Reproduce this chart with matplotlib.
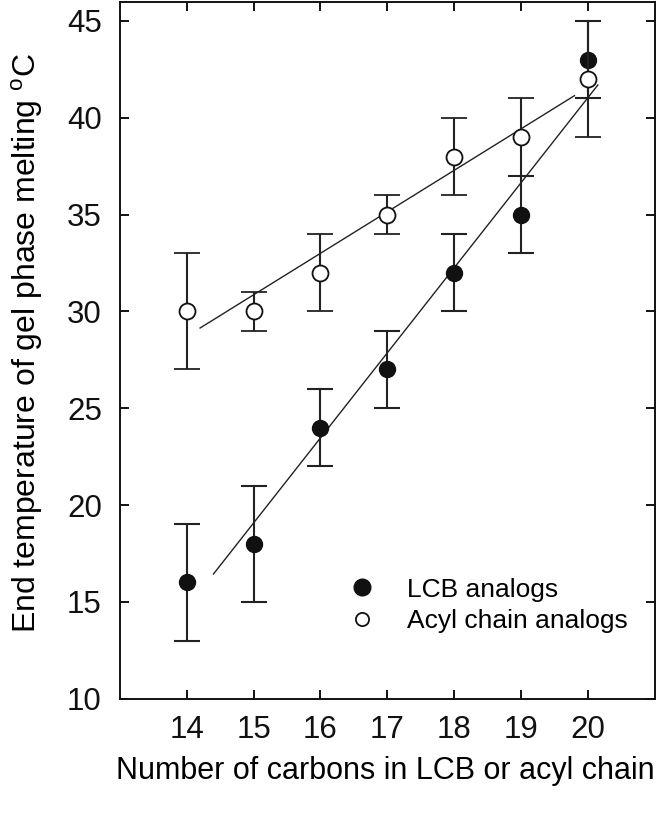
import numpy as np
import matplotlib
matplotlib.use("Agg")
import matplotlib.pyplot as plt
from matplotlib.lines import Line2D

plt.rcParams['font.family'] = ['Liberation Sans', 'DejaVu Sans']
plt.rcParams['mathtext.fontset'] = 'custom'
plt.rcParams['mathtext.rm'] = 'Liberation Sans'

# data
carbons = [14, 15, 16, 17, 18, 19, 20]
lcb_temp = [16, 18, 24, 27, 32, 35, 43]
lcb_err = [3, 3, 2, 2, 2, 2, 2]
acyl_temp = [30, 30, 32, 35, 38, 39, 42]
acyl_err = [3, 1, 2, 1, 2, 2, 3]

# x extent of the regression lines
lcb_fit_range = [14.4, 20.15]
acyl_fit_range = [14.2, 19.8]

fig = plt.figure(figsize=(6.66, 8.19), dpi=100)
ax = fig.add_axes([0.180, 0.147, 0.803, 0.851])

# regression lines
for temps, xr in [(lcb_temp, lcb_fit_range), (acyl_temp, acyl_fit_range)]:
    k, b = np.polyfit(carbons, temps, 1)
    xs = np.array(xr)
    ax.plot(xs, k * xs + b, color='#222222', lw=1.0, zorder=2)

ax.errorbar(carbons, lcb_temp, yerr=lcb_err, fmt='o', ms=11.5, mfc='#111111',
            mec='#111111', ecolor='#222222', elinewidth=1.5, capsize=9.5,
            capthick=1.5, zorder=3)
ax.errorbar(carbons, acyl_temp, yerr=acyl_err, fmt='o', ms=11.5, mfc='white',
            mec='#111111', mew=1.3, ecolor='#222222', elinewidth=1.5, capsize=9.5,
            capthick=1.5, zorder=4)

ax.set_xlim(13, 21)
ax.set_ylim(10, 46)
ax.set_xticks(carbons)
ax.set_yticks([10, 15, 20, 25, 30, 35, 40, 45])

for s in ax.spines.values():
    s.set_linewidth(1.4)
    s.set_color('#111111')
ax.tick_params(direction='in', length=6.5, width=1.4, top=True, right=True,
               labelsize=22.5, colors='#111111')
ax.tick_params(axis='y', pad=13)
ax.tick_params(axis='x', pad=12)

ax.set_xlabel('Number of carbons in LCB or acyl chain', fontsize=22)
ax.xaxis.set_label_coords(0.497, -0.083)
ax.set_ylabel(r'End temperature of gel phase melting $^{\mathrm{o}}$C', fontsize=23)
ax.yaxis.set_label_coords(-0.14, 0.51)

handles = [
    Line2D([], [], ls='none', marker='o', ms=12, mfc='#111111', mec='#111111'),
    Line2D([], [], ls='none', marker='o', ms=9.5, mfc='white', mec='#111111', mew=1.3),
]
ax.legend(handles, ['LCB analogs', 'Acyl chain analogs'], loc='center left',
          bbox_to_anchor=(0.4226, 0.134), frameon=False, fontsize=19,
          borderpad=0, borderaxespad=0, handletextpad=1.1, labelspacing=0.28,
          handlelength=1.2)

fig.savefig('out.png', dpi=100)
